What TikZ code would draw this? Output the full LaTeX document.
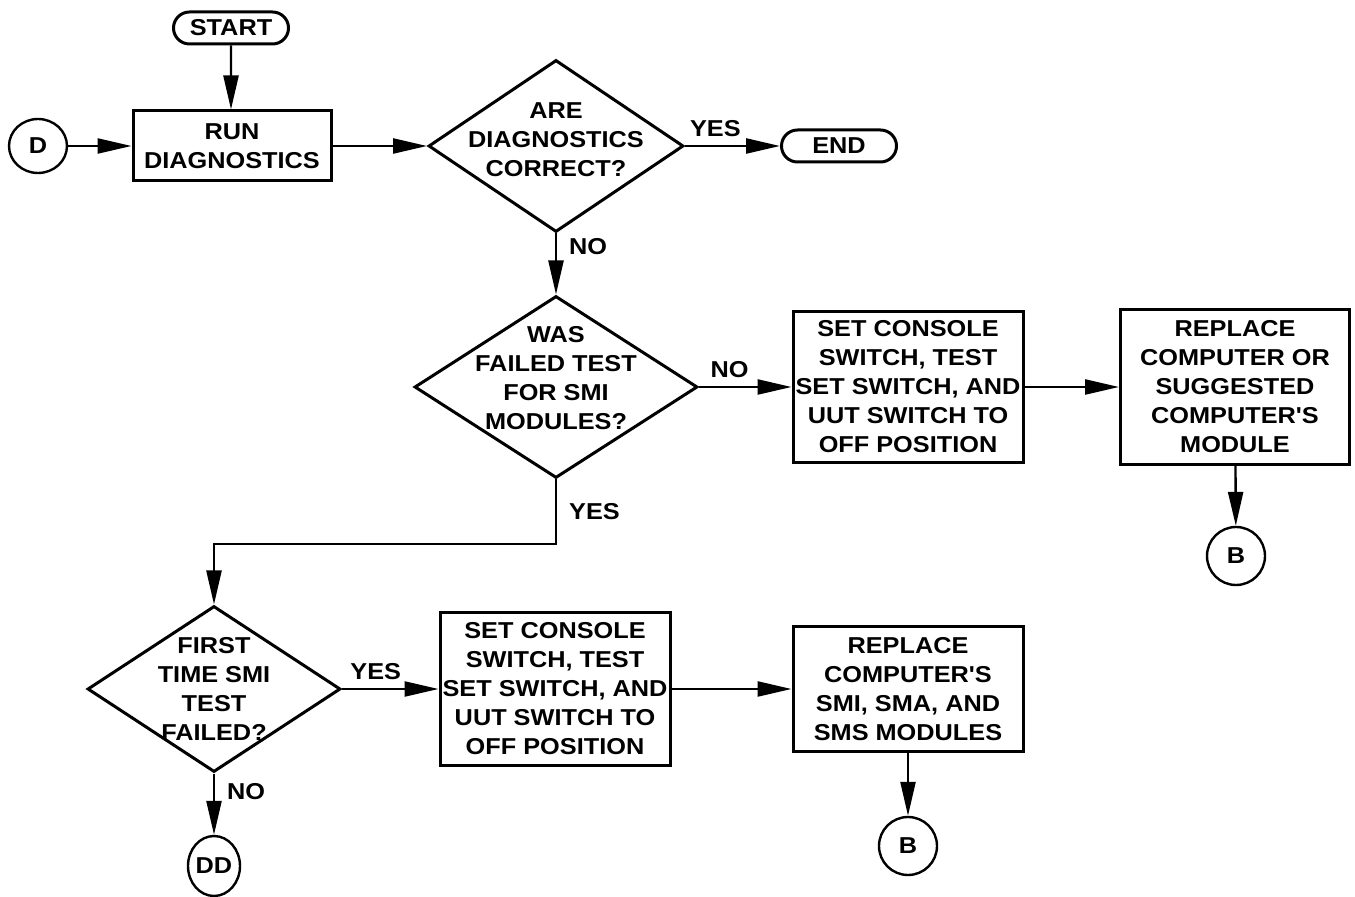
\documentclass[tikz,border=0pt]{standalone}
\usepackage{fontspec}
\newfontfamily\chartfont[FakeStretch=1.1]{Liberation Sans}
\usepackage{tikz}
\usetikzlibrary{arrows.meta,positioning,shapes.geometric,shapes.misc,calc}
\tikzset{
  terminal/.style={draw, line width=1.5pt, rounded rectangle, minimum width=57.5pt, minimum height=16pt, inner sep=0pt},
  process/.style={draw, line width=1.5pt, align=center, inner sep=0pt},
  decision/.style={draw, line width=1.5pt, diamond, inner sep=0pt},
  question/.style={align=center, inner sep=0pt},
  connector/.style={draw, line width=1.2pt, ellipse, inner sep=0pt},
  flow/.style={-{Triangle[length=17pt, width=7.5pt]}, line width=1.2pt},
  answer/.style={inner sep=2pt},
}

\begin{document}
\begin{tikzpicture}[x=0.5pt,y=-0.5pt, every node/.style={font=\chartfont\bfseries\fontsize{11.5}{14.5}\selectfont}]
  \useasboundingbox (0,0) rectangle (1355,897);
  % top row
  \node[terminal] (start) at (231,28) {START};
  \node[connector, minimum width=29pt, minimum height=27pt] (d) at (38,146) {D};
  \node[process, minimum width=99pt, minimum height=35pt] (run) at (232,146) {RUN\\DIAGNOSTICS};
  \node[decision, minimum width=127.5pt, minimum height=86pt,
    label={[question, yshift=3pt]center:{ARE\\DIAGNOSTICS\\CORRECT?}}] (q1) at (556,146) {};
  \node[terminal] (stop) at (839,146) {END};
  % middle row
  \node[decision, minimum width=141.5pt, minimum height=91pt,
    label={[question, yshift=4.5pt]center:{WAS\\FAILED TEST\\FOR SMI\\MODULES?}}] (q2) at (556,387) {};
  \node[process, minimum width=115pt, minimum height=75.5pt] (set1) at (908,387) {SET CONSOLE\\SWITCH, TEST\\SET SWITCH, AND\\UUT SWITCH TO\\OFF POSITION};
  \node[process, minimum width=114.5pt, minimum height=77.5pt] (repl1) at (1235,387) {REPLACE\\COMPUTER OR\\SUGGESTED\\COMPUTER'S\\MODULE};
  \node[connector, minimum size=29pt] (b1) at (1236,556) {B};
  % bottom row
  \coordinate (bend) at (214,544);
  \node[decision, minimum width=126.5pt, minimum height=83pt,
    label={[question]center:{FIRST\\TIME SMI\\TEST\\FAILED?}}] (q3) at (214,689) {};
  \node[process, minimum width=115pt, minimum height=76.5pt] (set2) at (555,689) {SET CONSOLE\\SWITCH, TEST\\SET SWITCH, AND\\UUT SWITCH TO\\OFF POSITION};
  \node[process, minimum width=115pt, minimum height=62pt] (repl2) at (908,689) {REPLACE\\COMPUTER'S\\SMI, SMA, AND\\SMS MODULES};
  \node[connector, minimum size=29pt] (b2) at (908,846) {B};
  \node[connector, minimum width=26pt, minimum height=30pt] (dd) at (214,866) {DD};

  \draw[flow] (start) -- (start |- run.north);
  \draw[flow] (d) -- (run);
  \draw[flow] (run) -- (q1);
  \draw[flow] (q1) -- node[answer, above=2pt, pos=0.32]{YES} (stop);
  \draw[flow] (q1) -- node[answer, right=4pt, pos=0.22]{NO} (q2);
  \draw[flow] (q2) -- node[answer, above=2pt, pos=0.33]{NO} (set1);
  \draw[flow] (set1) -- (repl1);
  \draw[flow] (repl1) -- (b1);
  \draw[flow] (q2.south) |- node[answer, right=4pt, pos=0.25]{YES} (bend) -- (q3.north);
  \draw[flow] (q3) -- node[answer, above=2pt, pos=0.35]{YES} (set2);
  \draw[flow] (set2) -- (repl2);
  \draw[flow] (repl2) -- (b2);
  \draw[flow] (q3) -- node[answer, right=4pt, pos=0.3]{NO} (dd);
\end{tikzpicture}
\end{document}
